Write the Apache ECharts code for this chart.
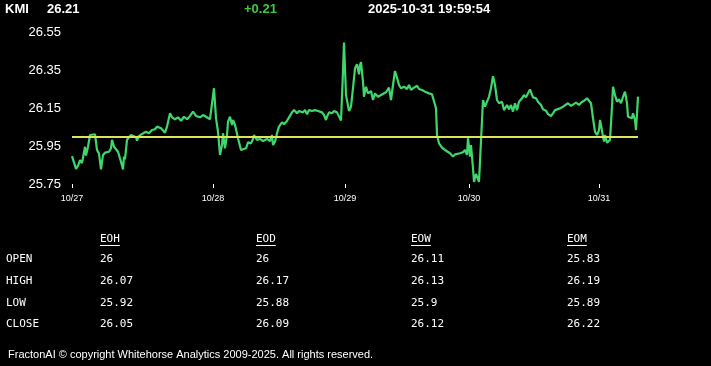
<!DOCTYPE html>
<html><head><meta charset="utf-8">
<script src="https://cdn.jsdelivr.net/npm/echarts@6/dist/echarts.min.js"></script>
<style>html,body{margin:0;padding:0;background:#000;}#c{width:711px;height:366px;}</style>
</head><body><div id="c"></div>
<script>
const symbol = 'KMI';
const lastPrice = '26.21';
const change = '+0.21';
const timestamp = '2025-10-31 19:59:54';
const prevClose = 26.00;
const dayLabels = ['10/27', '10/28', '10/29', '10/30', '10/31'];
const dayStartIndex = [0, 141, 273, 397, 527];
const lastIndex = 566;
const yTicks = [25.75, 25.95, 26.15, 26.35, 26.55];
const barIndex = [0,2,4,6,8,10,13,14,16,18,20,23,25,27,29,31,33,37,39,40,42,46,49,51,52,53,55,57,59,61,64,65,67,70,72,74,77,80,83,85,89,91,93,95,98,100,103,106,109,112,115,118,121,124,128,131,134,138,140,142,144,146,148,150,151,153,155,156,158,160,161,163,165,166,169,171,174,176,179,181,182,185,188,191,195,198,200,201,203,205,207,210,212,215,217,220,222,225,227,231,233,235,237,240,243,246,250,252,254,255,257,260,262,265,267,269,271,272,274,275,277,279,281,283,285,287,288,289,291,292,294,296,299,301,303,306,309,311,314,317,319,321,323,325,327,329,332,335,337,339,342,345,347,350,353,357,360,362,364,365,367,370,373,375,378,381,383,385,388,391,393,395,396,398,399,401,402,404,406,407,409,411,413,415,417,419,421,423,425,427,430,432,435,437,439,441,443,445,447,450,452,454,456,458,460,461,464,466,469,471,474,476,479,481,483,485,488,491,493,496,499,501,504,507,509,512,515,517,519,521,523,525,527,528,529,531,532,533,535,537,538,540,541,543,545,547,549,551,553,555,556,558,560,561,563,564,565,566];
const prices = [25.897,25.89,25.83,25.845,25.876,25.86,25.946,25.90,25.946,26.008,26.013,26.012,25.929,25.91,25.827,25.903,25.915,25.92,25.938,25.982,25.946,25.92,25.867,25.827,25.894,25.88,25.982,25.996,26.008,26.017,25.996,25.978,26.003,26.013,26.008,26.025,26.017,26.034,26.038,26.052,26.043,26.052,26.02,26.052,26.122,26.101,26.091,26.101,26.083,26.104,26.091,26.108,26.131,26.108,26.101,26.113,26.104,26.091,26.087,26.254,26.097,26.025,25.903,25.955,26.017,25.938,26.008,26.078,26.104,26.061,26.087,26.061,26.069,25.991,25.929,25.929,25.938,25.969,25.964,25.987,26.008,25.982,25.987,25.976,25.987,25.976,26.008,25.955,25.973,26.017,26.052,26.075,26.064,26.082,26.092,26.127,26.139,26.122,26.134,26.127,26.139,26.117,26.139,26.134,26.139,26.134,26.127,26.113,26.087,26.104,26.127,26.122,26.134,26.127,26.134,26.084,26.341,26.495,26.218,26.227,26.134,26.157,26.254,26.359,26.38,26.327,26.376,26.391,26.288,26.209,26.262,26.227,26.239,26.192,26.227,26.209,26.218,26.215,26.233,26.257,26.192,26.271,26.345,26.309,26.271,26.254,26.262,26.25,26.271,26.245,26.257,26.267,26.25,26.245,26.236,26.227,26.222,26.215,26.148,26.008,25.964,25.941,25.929,25.92,25.912,25.894,25.906,25.899,25.912,25.917,25.929,25.903,25.991,25.894,25.955,25.833,25.761,25.803,25.812,25.761,25.758,26.192,26.157,26.166,26.209,26.254,26.318,26.271,26.192,26.175,26.183,26.139,26.166,26.143,26.166,26.131,26.175,26.139,26.183,26.201,26.218,26.206,26.209,26.248,26.245,26.206,26.201,26.183,26.166,26.143,26.136,26.118,26.108,26.122,26.139,26.131,26.148,26.157,26.166,26.175,26.161,26.171,26.178,26.166,26.178,26.188,26.201,26.192,26.175,26.096,26.025,26.008,26.034,26.087,26.061,25.999,25.973,26.008,25.967,25.973,25.982,26.157,26.262,26.218,26.183,26.196,26.175,26.209,26.236,26.175,26.104,26.101,26.096,26.122,26.087,26.034,26.122,26.21];
const tableCols = ['EOH', 'EOD', 'EOW', 'EOM'];
const tableRows = ['OPEN', 'HIGH', 'LOW', 'CLOSE'];
const eohValues = ['26', '26.07', '25.92', '26.05'];
const eodValues = ['26', '26.17', '25.88', '26.09'];
const eowValues = ['26.11', '26.13', '25.9', '26.12'];
const eomValues = ['25.83', '26.19', '25.89', '26.22'];
const footerText = 'FractonAI \u00a9 copyright Whitehorse Analytics 2009-2025. All rights reserved.';

const chart = echarts.init(document.getElementById('c'));
const lineData = barIndex.map((x, i) => [x, prices[i]]);

const mono = '"DejaVu Sans Mono", "Liberation Mono", monospace';
const colX = [100, 256, 411, 567];
const rowY = [259, 281, 303, 324];
const colValues = [eohValues, eodValues, eowValues, eomValues];
const graphics = [];
function txt(x, y, text, font, fill, align) {
  graphics.push({type: 'text', x: x, y: y, silent: true,
    style: {text: text, font: font, fill: fill, align: align || 'left', verticalAlign: 'middle'}});
}
const hdrFont = 'bold 13px "Liberation Sans", Arial, sans-serif';
txt(5, 9, symbol, hdrFont, '#fff');
txt(47, 9, lastPrice, hdrFont, '#fff');
txt(244, 9, change, hdrFont, '#3fc83f');
txt(368, 9, timestamp, hdrFont, '#fff');
const tFont = '11px ' + mono;
tableCols.forEach((c, j) => {
  txt(colX[j], 239, c, tFont, '#fff');
  graphics.push({type: 'line', silent: true,
    shape: {x1: colX[j], y1: 245.5, x2: colX[j] + c.length * 6.6, y2: 245.5},
    style: {stroke: '#fff', lineWidth: 1}});
});
tableRows.forEach((r, i) => {
  txt(6, rowY[i], r, tFont, '#fff');
  colValues.forEach((vals, j) => txt(colX[j], rowY[i], vals[i], tFont, '#fff'));
});
txt(8, 355, footerText, '11px "Liberation Sans", Arial, sans-serif', '#fff');

chart.setOption({
  backgroundColor: '#000',
  animation: false,
  grid: {left: 72, top: 32, width: 566, height: 152, containLabel: false},
  xAxis: {
    type: 'value', min: 0, max: lastIndex,
    axisLine: {show: false},
    splitLine: {show: false},
    axisTick: {show: true, customValues: dayStartIndex, length: 4, lineStyle: {color: '#fff', width: 1}},
    axisLabel: {customValues: dayStartIndex, color: '#fff', fontSize: 9, margin: 10,
      fontFamily: '"Liberation Sans", Arial, sans-serif',
      formatter: v => dayLabels[dayStartIndex.indexOf(v)] || ''}
  },
  yAxis: {
    type: 'value', min: yTicks[0], max: yTicks[yTicks.length - 1],
    axisLine: {show: false},
    axisTick: {show: false},
    splitLine: {show: false},
    axisLabel: {customValues: yTicks, color: '#fff', fontSize: 13, margin: 11,
      fontFamily: '"Liberation Sans", Arial, sans-serif',
      formatter: v => v.toFixed(2)}
  },
  series: [{
    type: 'line', data: lineData, showSymbol: false, symbol: 'none',
    lineStyle: {color: '#3fd66c', width: 2.2},
    z: 2,
    markLine: {
      silent: true, symbol: 'none', label: {show: false},
      lineStyle: {color: '#dde35a', width: 2, type: 'solid'},
      data: [{yAxis: prevClose}]
    }
  }],
  graphic: graphics
});
</script></body></html>
